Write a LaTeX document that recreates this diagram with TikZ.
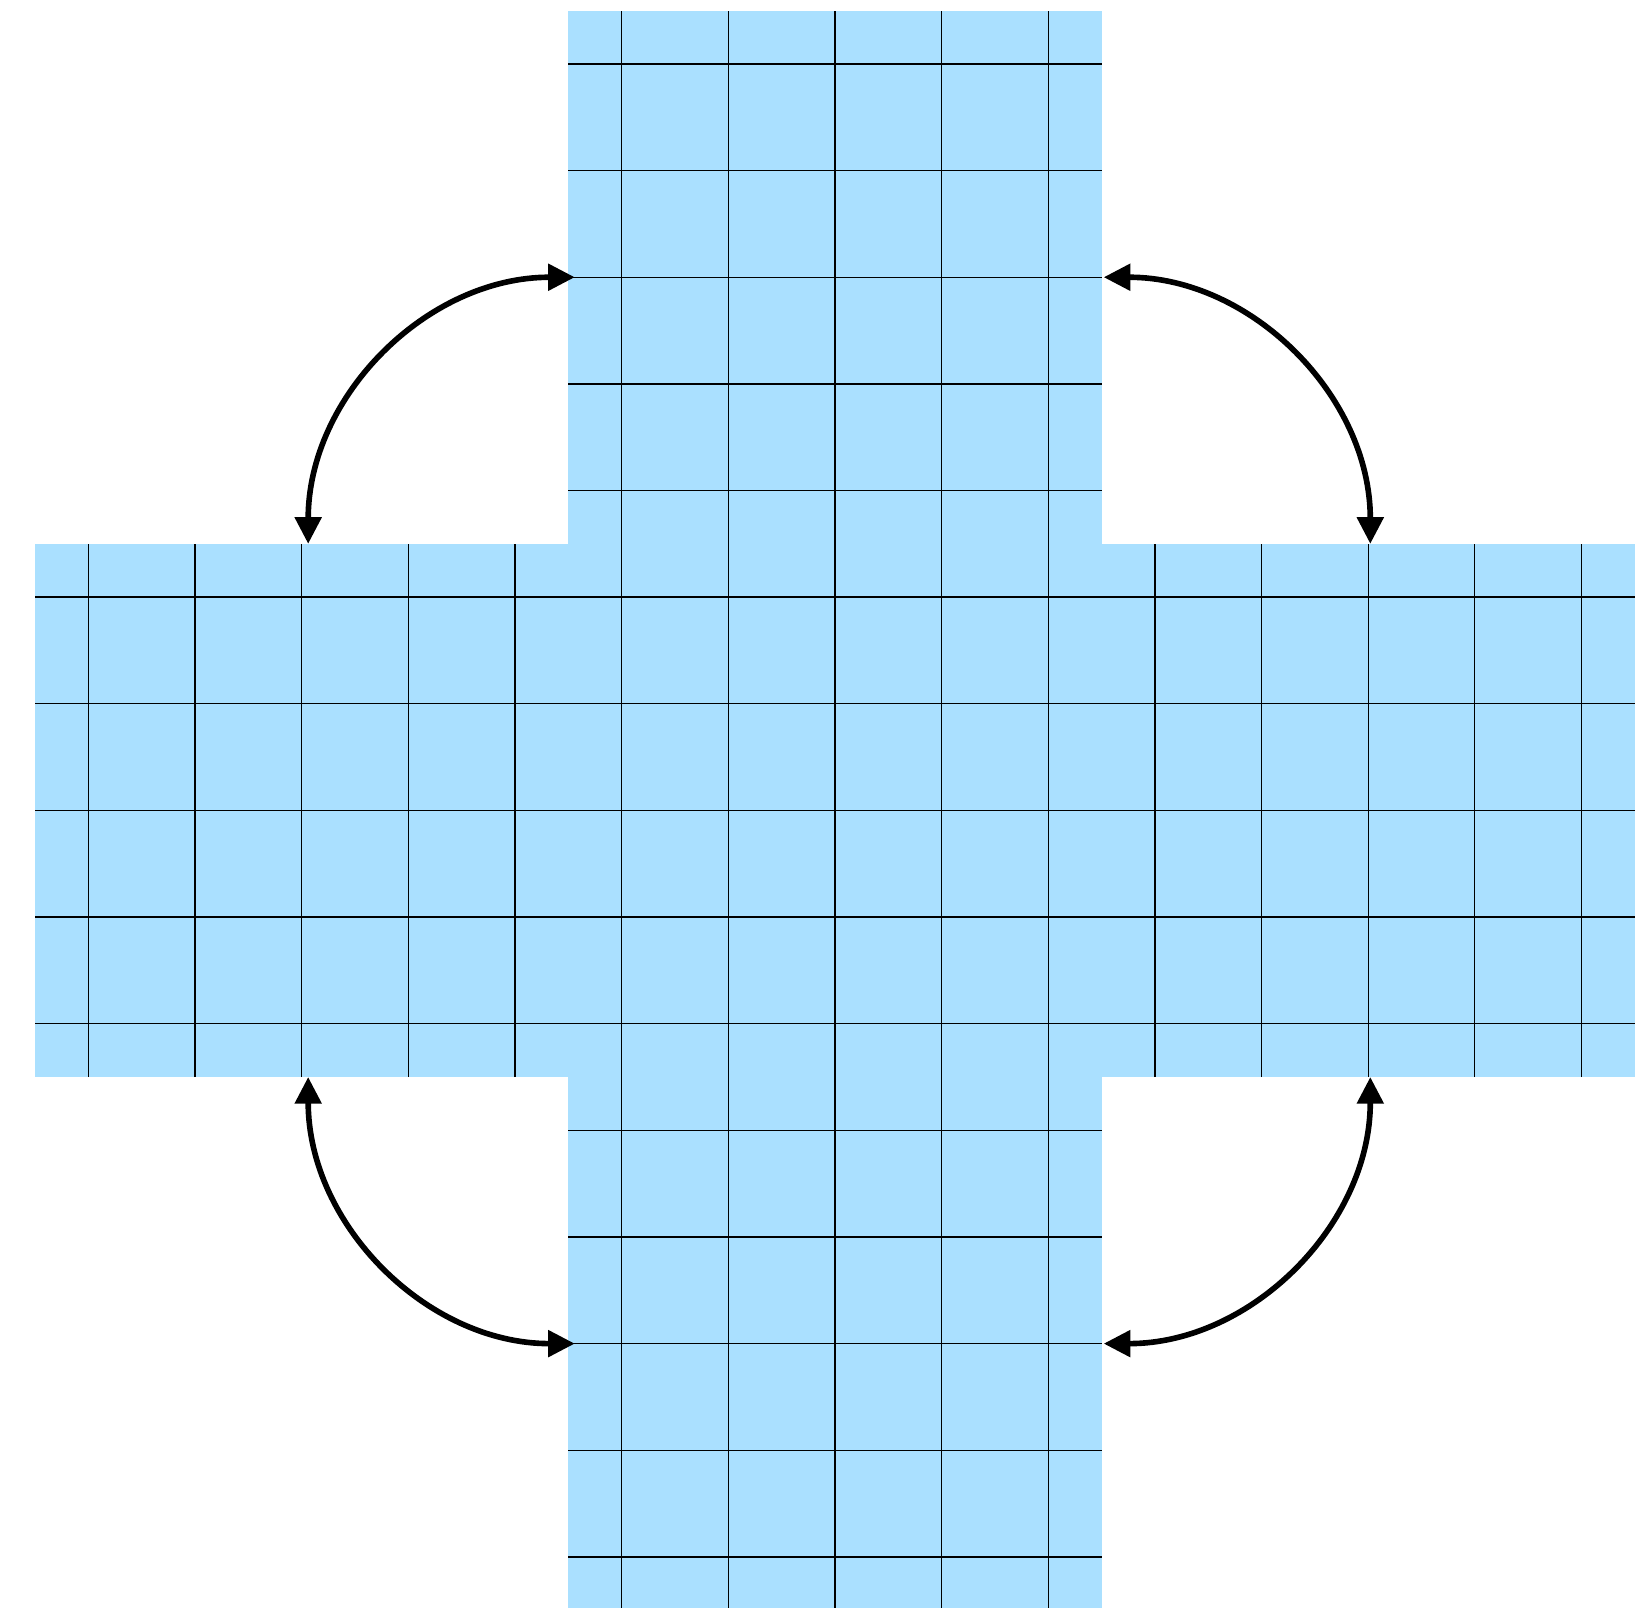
\documentclass[tikz,border=0pt]{standalone}
\usetikzlibrary{arrows.meta}
\definecolor{cellblue}{RGB}{170,224,255}

\begin{document}
\begin{tikzpicture}[>={Triangle[length=7.1pt,width=6.9pt]},
	gridline/.style={line width=0.35pt},
	turnarrow/.style={<->, line width=1.5pt}]
	\useasboundingbox (-0.33,0.03) rectangle (15.04,15.1);
	% 1. 竖条与横条（十字形色块）
	\fill[cellblue] (5,0) rectangle (10,15);
	\fill[cellblue] (0,5) rectangle (15,10);
	
	% 2. 网格线（落在半格位置）
	\foreach \k in {0.5,1.5,...,14.5} {
		\draw[gridline] (\k,5) -- (\k,10);
		\draw[gridline] (5,\k) -- (10,\k);
	}
	\foreach \k in {5.5,6.5,...,9.5} {
		\draw[gridline] (0,\k) -- (15,\k);
		\draw[gridline] (\k,0) -- (\k,15);
	}
	
	% 3. 箭头端点
	\coordinate (L1) at (2.56,10);
	\coordinate (U1) at (5.06,12.5);
	\coordinate (U2) at (10.02,12.5);
	\coordinate (R1) at (12.52,10);
	\coordinate (L2) at (2.56,5);
	\coordinate (D1) at (5.06,2.5);
	\coordinate (D2) at (10.02,2.5);
	\coordinate (R2) at (12.52,5);
	
	% 4. 四条双向弧形箭头
	\draw[turnarrow] (L1) to[out=90,in=180] (U1);
	\draw[turnarrow] (U2) to[out=0,in=90] (R1);
	\draw[turnarrow] (L2) to[out=-90,in=180] (D1);
	\draw[turnarrow] (D2) to[out=0,in=-90] (R2);
	
\end{tikzpicture}
\end{document}
